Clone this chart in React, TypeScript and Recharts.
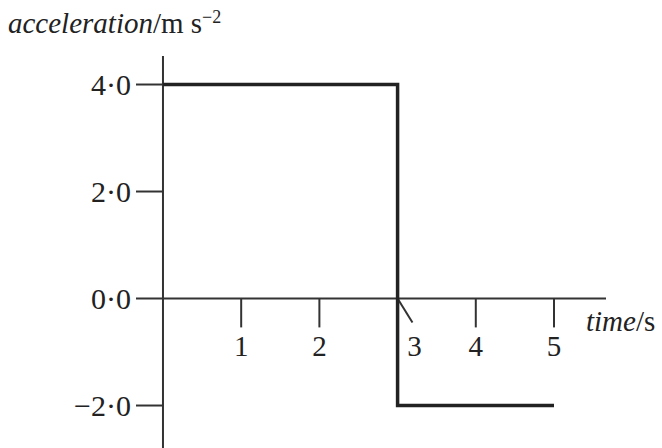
import { ComposedChart, Line, Scatter, XAxis, YAxis, ReferenceLine } from 'recharts';

// step profile of the acceleration
const timeValues = [0, 3, 3, 5];
const accelValues = [4, 4, -2, -2];

const xTicks = [1, 2, 3, 4, 5];
const yTicks = [4, 2, 0, -2];

const X_DOMAIN: [number, number] = [-0.345, 5.665];
const Y_DOMAIN: [number, number] = [-2.794, 4.533];
const TICK_LEN = 0.54;

const INK = '#222';
const AXIS = '#333';
const FONT = '"Liberation Serif", "DejaVu Serif", serif';

const lineData = timeValues.map((t, i) => ({ t, a: accelValues[i] }));
const xLabelData = xTicks.map((t) => ({ t, a: 0, label: String(t) }));

const fmtY = (v: number) => v.toFixed(1).replace('.', '\u00b7').replace('-', '\u2212');

function XTickLabel(props: any) {
  const { cx, cy, payload } = props;
  // the 3 sits right of the vertical drop
  const dx = payload.t === 3 ? 17 : 0;
  return (
    <text x={cx + dx} y={cy + 57} textAnchor="middle" fontFamily={FONT} fontSize={29} fill={INK}>
      {payload.label}
    </text>
  );
}

export default function App() {
  return (
    <div style={{ position: 'relative', width: 662, height: 448, background: '#fff' }}>
      <style>{'body{margin:0}'}</style>
      <div
        style={{
          position: 'absolute',
          left: 8,
          top: 6,
          fontFamily: FONT,
          fontSize: 29,
          color: INK,
          whiteSpace: 'nowrap',
          lineHeight: '34px',
        }}
      >
        <i>acceleration</i>/m s<sup style={{ fontSize: 18, verticalAlign: 'top', position: 'relative', top: -6 }}>{'\u2212'}2</sup>
      </div>
      <div
        style={{
          position: 'absolute',
          left: 586,
          top: 305,
          fontFamily: FONT,
          fontSize: 29,
          color: INK,
          whiteSpace: 'nowrap',
        }}
      >
        <i>time</i>/s
      </div>
      <ComposedChart width={662} height={448} margin={{ top: 56, right: 56, bottom: 0, left: 0 }}>
        <XAxis type="number" dataKey="t" domain={X_DOMAIN} allowDataOverflow hide />
        <YAxis
          type="number"
          dataKey="a"
          domain={Y_DOMAIN}
          allowDataOverflow
          ticks={yTicks}
          tickFormatter={fmtY}
          width={136}
          axisLine={false}
          tickLine={false}
          tickSize={0}
          tickMargin={5}
          tick={{ fontFamily: FONT, fontSize: 30, fill: INK }}
        />
        <ReferenceLine x={0} stroke={AXIS} strokeWidth={2} />
        <ReferenceLine y={0} stroke={AXIS} strokeWidth={2} />
        {yTicks
          .filter((v) => v !== 0)
          .map((v) => (
            <ReferenceLine
              key={'y' + v}
              segment={[{ x: X_DOMAIN[0], y: v }, { x: 0, y: v }]}
              stroke={AXIS}
              strokeWidth={2}
            />
          ))}
        {xTicks.map((v) => (
          <ReferenceLine
            key={'x' + v}
            segment={
              v === 3
                ? [{ x: 3, y: 0 }, { x: 3.19, y: -0.45 }]
                : [{ x: v, y: 0 }, { x: v, y: -TICK_LEN }]
            }
            stroke={AXIS}
            strokeWidth={2}
          />
        ))}
        <Line
          data={lineData}
          dataKey="a"
          type="linear"
          stroke={INK}
          strokeWidth={3.5}
          dot={false}
          isAnimationActive={false}
        />
        <Scatter data={xLabelData} dataKey="a" shape={XTickLabel} isAnimationActive={false} />
      </ComposedChart>
    </div>
  );
}
